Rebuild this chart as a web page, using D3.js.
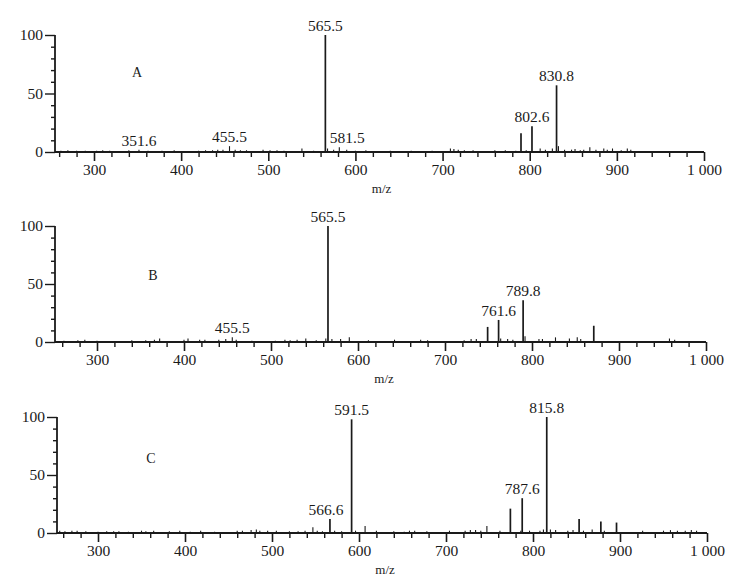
<!DOCTYPE html>
<html lang="en">
<head>
  <meta charset="UTF-8">
  <title>MS spectra A B C</title>
  <style>
      body { margin: 0; background: #fff; }
      text { font-family: "Liberation Serif", "DejaVu Serif", serif; fill: #1a1a1a; }
      .tick line, .axis-line { stroke: #1a1a1a; }
      .peak { stroke: #1a1a1a; }
  </style>
</head>
<body>
<div id="chart"></div>
<script src="https://d3js.org/d3.v7.min.js"></script>
<script>
  // panel A
  const aMz  = [262, 270, 280, 290, 303, 310, 318, 340, 351.6, 362, 378, 392, 420, 428, 436, 442, 448, 455.5, 462, 468, 475, 494, 502, 510, 518, 538.6, 552, 565.5, 568, 575, 581.5, 590, 600, 612, 640, 664, 688, 709, 713, 718, 725, 735, 760, 772, 784, 790, 796, 802.6, 812, 818, 826, 830.8, 833, 840, 848, 852, 858, 862, 869, 876, 885, 889, 895, 905, 912, 916];
  const aInt = [1, 1.5, 1, 1, 1, 1.5, 1, 1.5, 2, 1, 1, 1.5, 1, 1.5, 1.5, 2, 2, 5, 2, 1.5, 1.5, 2, 1.5, 1.5, 1, 3, 1, 100, 3, 2, 4, 2, 1, 1.5, 1, 1, 1, 3, 2.5, 2, 1.5, 1.5, 1.5, 1.5, 1, 16, 1.5, 22, 3, 2, 3, 57, 5, 2, 2, 2.5, 1.5, 2, 4, 2, 3, 2, 3, 1.5, 3, 2];
  const aLabels = ["351.6", "455.5", "565.5", "581.5", "802.6", "830.8"];

  // panel B
  const bMz  = [262, 278, 286, 300, 340, 356, 366, 372, 400, 404.6, 418, 424, 440, 448, 455.5, 460, 478, 505, 516, 522, 530, 540, 552, 563, 565.5, 570, 580, 590, 612, 642, 672, 680, 722, 730, 736, 749, 761.6, 764, 772, 778, 789.8, 792, 808, 812, 827, 843, 852, 856, 871, 958, 964];
  const bInt = [1, 1.5, 2, 1, 1.5, 1.5, 2, 3, 2, 3, 2, 2, 2, 2.5, 4, 2, 1, 1, 2, 1.5, 2, 3, 1.5, 3, 100, 2.5, 2.5, 4, 1.5, 2, 2, 1.5, 1.5, 2.5, 2.5, 13, 19, 3, 2.5, 2, 36, 5, 2.5, 2.5, 4, 3, 4, 2.5, 14, 3, 2];
  const bLabels = ["455.5", "565.5", "761.6", "789.8"];

  // panel C
  const cMz  = [256, 262, 270, 276, 286, 300, 310, 318, 324, 335, 350, 355, 364, 382, 394, 406, 418, 434, 460, 466, 476, 482, 486, 495, 505, 520, 530, 538, 547, 552, 558, 566.6, 572, 580, 591.5, 596, 607, 620, 640, 652, 658, 664, 678, 704, 722, 728, 734, 740, 747, 762, 774, 786, 787.6, 796, 808, 812, 815.8, 820, 826, 840, 846, 853, 858, 868, 878, 882, 896, 926, 950, 958, 966, 975, 982, 988];
  const cInt = [2, 1.5, 2, 2, 1.5, 1, 1.5, 1.5, 1.5, 1, 2, 1.5, 2, 1.5, 2, 1, 2, 1, 2, 2, 2.5, 3, 2, 2, 2, 1.5, 1.5, 2, 5, 2, 1.5, 12, 2, 1.5, 98, 2, 6, 2, 1.5, 1, 2, 2, 1.5, 2, 2, 2.5, 2.5, 2, 6, 2, 21, 2, 30, 2, 2, 3, 100, 3, 2.5, 2, 2.5, 12, 2, 3, 10, 2, 9, 2, 2, 2.5, 2, 2, 2.5, 2];
  const cLabels = ["566.6", "591.5", "787.6", "815.8"];

  const xMajor = [300, 400, 500, 600, 700, 800, 900, 1000];
  const xMajorLabels = ["300", "400", "500", "600", "700", "800", "900", "1 000"];
  const yMajor = [0, 50, 100];

  // small horizontal nudges for crowded labels
  const labelShift = {"581.5": 8, "566.6": -4};

  const panels = [
    {name: "A", mz: aMz, val: aInt, labels: aLabels, axisX: 55, x300: 94, x1000: 704, y0: 152, y100: 35, nameX: 137, nameY: 77},
    {name: "B", mz: bMz, val: bInt, labels: bLabels, axisX: 55, x300: 97, x1000: 706, y0: 342, y100: 226, nameX: 153, nameY: 280},
    {name: "C", mz: cMz, val: cInt, labels: cLabels, axisX: 57, x300: 98, x1000: 707, y0: 533, y100: 417, nameX: 151, nameY: 463}
  ];

  const svg = d3.select("#chart").append("svg")
    .attr("width", 743)
    .attr("height", 578);

  panels.forEach(p => {
    const x = d3.scaleLinear().domain([300, 1000]).range([p.x300, p.x1000]);
    const y = d3.scaleLinear().domain([0, 100]).range([p.y0, p.y100]);
    const xStart = x.invert(p.axisX);

    const g = svg.append("g");

    // minor x ticks every 20
    const xMinor = d3.range(260, 1001, 20).filter(v => v % 100 !== 0 && v > xStart);
    g.append("g")
      .attr("transform", `translate(0,${p.y0})`)
      .call(d3.axisBottom(x).tickValues(xMinor).tickSize(5).tickFormat(""))
      .call(s => s.select(".domain").remove())
      .selectAll("line").attr("stroke-width", 1.4);

    g.append("g")
      .attr("transform", `translate(0,${p.y0})`)
      .call(d3.axisBottom(x).tickValues(xMajor).tickSize(9)
        .tickFormat((d, i) => xMajorLabels[i]).tickPadding(3))
      .call(s => s.select(".domain").remove())
      .call(s => s.selectAll("line").attr("stroke-width", 1.6))
      .selectAll("text")
      .style("font-size", "15.5px")
      .attr("font-family", null)
      .attr("fill", null);

    // y ticks
    g.append("g")
      .attr("transform", `translate(${p.axisX},0)`)
      .call(d3.axisLeft(y).tickValues(d3.range(10, 100, 10).filter(v => v !== 50)).tickSize(4).tickFormat(""))
      .call(s => s.select(".domain").remove())
      .selectAll("line").attr("stroke-width", 1.4);

    g.append("g")
      .attr("transform", `translate(${p.axisX},0)`)
      .call(d3.axisLeft(y).tickValues(yMajor).tickSize(10).tickPadding(2))
      .call(s => s.select(".domain").remove())
      .call(s => s.selectAll("line").attr("stroke-width", 1.4))
      .selectAll("text")
      .style("font-size", "15.5px")
      .attr("font-family", null)
      .attr("fill", null);

    // axis lines
    g.append("line").attr("class", "axis-line")
      .attr("x1", p.axisX).attr("x2", x(1000))
      .attr("y1", p.y0).attr("y2", p.y0)
      .attr("stroke-width", 1.8);
    g.append("line").attr("class", "axis-line")
      .attr("x1", p.axisX).attr("x2", p.axisX)
      .attr("y1", y(100)).attr("y2", p.y0 + 1)
      .attr("stroke-width", 1.8);

    // peaks
    g.selectAll(".peak")
      .data(p.mz.map((m, i) => ({m, v: p.val[i]})))
      .enter().append("line")
      .attr("class", "peak")
      .attr("x1", d => x(d.m)).attr("x2", d => x(d.m))
      .attr("y1", y(0)).attr("y2", d => y(d.v))
      .attr("stroke-width", d => d.v > 8 ? 1.7 : 1.1);

    // peak labels
    g.selectAll(".plabel")
      .data(p.labels)
      .enter().append("text")
      .attr("class", "plabel")
      .attr("x", d => x(+d) + (labelShift[d] || 0))
      .attr("y", d => y(p.val[p.mz.indexOf(+d)]) - 4)
      .attr("text-anchor", "middle")
      .style("font-size", "15.5px")
      .text(d => d);

    // panel letter
    g.append("text")
      .attr("x", p.nameX)
      .attr("y", p.nameY)
      .attr("text-anchor", "middle")
      .style("font-size", "14px")
      .text(p.name);

    // axis title
    g.append("text")
      .attr("x", x(630))
      .attr("y", p.y0 + 41)
      .attr("text-anchor", "middle")
      .style("font-size", "13px")
      .text("m/z");
  });
</script>
</body>
</html>
